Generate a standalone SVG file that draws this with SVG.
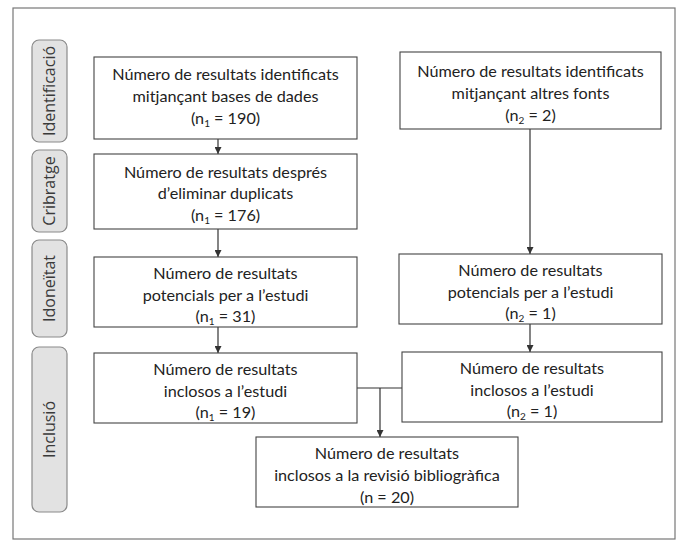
<svg xmlns="http://www.w3.org/2000/svg" width="683" height="541" viewBox="0 0 683 541">
<defs>
<style>
.frame{fill:#fff;stroke:#777;stroke-width:1.2}
.side{fill:#e2e2e2;stroke:#8a8a8a;stroke-width:1.2}
.sidet{font-family:"Open Sans","Noto Sans",sans-serif;font-size:16px;fill:#3a3a3a;text-anchor:middle}
.box{fill:#fff;stroke:#444;stroke-width:1.1}
.t{font-family:Lato,"Open Sans",sans-serif;font-size:16.2px;fill:#222;text-anchor:middle}
.sub{font-size:10px}
.ln{stroke:#333;stroke-width:1.2;fill:none}
</style>
<marker id="ah" viewBox="0 0 10 10" refX="10" refY="5" markerWidth="7" markerHeight="7" orient="auto" markerUnits="userSpaceOnUse">
<path d="M0,0 L10,5 L0,10 z" fill="#333"/>
</marker>
</defs>
<rect x="0" y="0" width="683" height="541" fill="#fff"/>
<rect class="frame" x="13" y="8" width="662" height="531"/>

<g id="phase-identificacio">
<rect class="side" x="32" y="40" width="35" height="102" rx="7"/>
<text class="sidet" transform="translate(55,91) rotate(-90)">Identificació</text>
</g>
<g id="phase-cribratge">
<rect class="side" x="32" y="150" width="35" height="82" rx="7"/>
<text class="sidet" transform="translate(55,191) rotate(-90)">Cribratge</text>
</g>
<g id="phase-idoneitat">
<rect class="side" x="32" y="240" width="35" height="97" rx="7"/>
<text class="sidet" transform="translate(55,288.5) rotate(-90)">Idoneïtat</text>
</g>
<g id="phase-inclusio">
<rect class="side" x="32" y="347" width="35" height="165" rx="7"/>
<text class="sidet" transform="translate(55,429.5) rotate(-90)">Inclusió</text>
</g>

<g id="connectors">
<line class="ln" x1="218" y1="139" x2="218" y2="154" marker-end="url(#ah)"/>
<line class="ln" x1="218" y1="229" x2="218" y2="257" marker-end="url(#ah)"/>
<line class="ln" x1="218" y1="327" x2="218" y2="353" marker-end="url(#ah)"/>
<line class="ln" x1="530" y1="129" x2="530" y2="254" marker-end="url(#ah)"/>
<line class="ln" x1="530" y1="324" x2="530" y2="352" marker-end="url(#ah)"/>
<line class="ln" x1="357" y1="388" x2="402" y2="388"/>
<line class="ln" x1="380" y1="388" x2="380" y2="437" marker-end="url(#ah)"/>
</g>

<g id="n1">
<rect class="box" x="94" y="57" width="263" height="82"/>
<text class="t" x="225.5" y="80">Número de resultats identificats</text>
<text class="t" x="225.5" y="102">mitjançant bases de dades</text>
<text class="t" x="225.5" y="124">(n<tspan class="sub" dy="3">1</tspan><tspan dy="-3"> = 190)</tspan></text>
</g>
<g id="n2">
<rect class="box" x="400" y="52" width="261" height="77"/>
<text class="t" x="530.5" y="77">Número de resultats identificats</text>
<text class="t" x="530.5" y="99">mitjançant altres fonts</text>
<text class="t" x="530.5" y="121">(n<tspan class="sub" dy="3">2</tspan><tspan dy="-3"> = 2)</tspan></text>
</g>
<g id="n3">
<rect class="box" x="94" y="154" width="263" height="75"/>
<text class="t" x="225.5" y="178">Número de resultats després</text>
<text class="t" x="225.5" y="199">d’eliminar duplicats</text>
<text class="t" x="225.5" y="221">(n<tspan class="sub" dy="3">1</tspan><tspan dy="-3"> = 176)</tspan></text>
</g>
<g id="n4">
<rect class="box" x="94" y="257" width="263" height="70"/>
<text class="t" x="225.5" y="279">Número de resultats</text>
<text class="t" x="225.5" y="301">potencials per a l’estudi</text>
<text class="t" x="225.5" y="322">(n<tspan class="sub" dy="3">1</tspan><tspan dy="-3"> = 31)</tspan></text>
</g>
<g id="n5">
<rect class="box" x="399" y="254" width="263" height="70"/>
<text class="t" x="530.5" y="276">Número de resultats</text>
<text class="t" x="530.5" y="298">potencials per a l’estudi</text>
<text class="t" x="530.5" y="319">(n<tspan class="sub" dy="3">2</tspan><tspan dy="-3"> = 1)</tspan></text>
</g>
<g id="n6">
<rect class="box" x="94" y="353" width="263" height="70"/>
<text class="t" x="225.5" y="375">Número de resultats</text>
<text class="t" x="225.5" y="397">inclosos a l’estudi</text>
<text class="t" x="225.5" y="418">(n<tspan class="sub" dy="3">1</tspan><tspan dy="-3"> = 19)</tspan></text>
</g>
<g id="n7">
<rect class="box" x="402" y="352" width="260" height="70"/>
<text class="t" x="532" y="374">Número de resultats</text>
<text class="t" x="532" y="396">inclosos a l’estudi</text>
<text class="t" x="532" y="417">(n<tspan class="sub" dy="3">2</tspan><tspan dy="-3"> = 1)</tspan></text>
</g>
<g id="n8">
<rect class="box" x="256" y="437" width="262" height="70"/>
<text class="t" x="387" y="459">Número de resultats</text>
<text class="t" x="387" y="481">inclosos a la revisió bibliogràfica</text>
<text class="t" x="387" y="503">(n = 20)</text>
</g>
</svg>
